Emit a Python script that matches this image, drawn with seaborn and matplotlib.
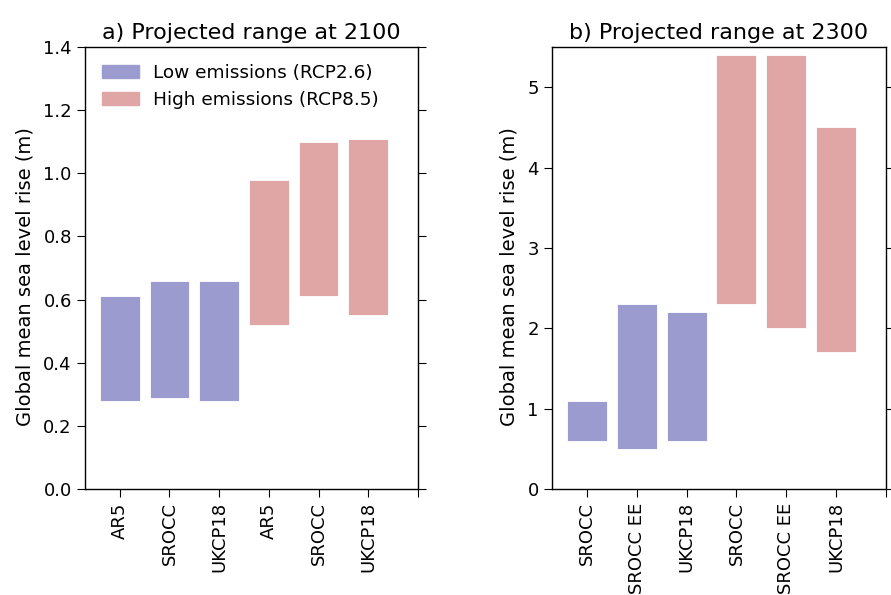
import matplotlib
matplotlib.use("Agg")
import matplotlib.pyplot as plt
import matplotlib.patches as mpatches
import seaborn as sns
import pandas as pd
import numpy as np

plt.rcParams['font.family'] = ['DejaVu Sans']
plt.rcParams['text.color'] = 'black'
plt.rcParams['axes.labelcolor'] = 'black'
plt.rcParams['xtick.color'] = 'black'
plt.rcParams['ytick.color'] = 'black'

# Panel a: 2100
labels_a = ["AR5", "SROCC", "UKCP18", "AR5", "SROCC", "UKCP18"]
low_a_min = [0.28, 0.29, 0.28]
low_a_max = [0.61, 0.66, 0.66]
high_a_min = [0.52, 0.61, 0.55]
high_a_max = [0.98, 1.10, 1.11]

# Panel b: 2300
labels_b = ["SROCC", "SROCC EE", "UKCP18", "SROCC", "SROCC EE", "UKCP18"]
low_b_min = [0.6, 0.5, 0.6]
low_b_max = [1.1, 2.3, 2.2]
high_b_min = [2.3, 2.0, 1.7]
high_b_max = [5.4, 5.4, 4.5]

c_low = "#9b9bd0"
c_high = "#e0a5a5"

fig = plt.figure(figsize=(8.91, 5.95), dpi=100)
ax_a = fig.add_axes([0.0954, 0.178, 0.3737, 0.743])
ax_b = fig.add_axes([0.6195, 0.178, 0.3749, 0.743])


def draw(ax, lmin, lmax, hmin, hmax, labels, ylim, title, yticks):
    n = len(lmin)
    for i, (mn, mx, col) in enumerate([(lmin, lmax, c_low), (hmin, hmax, c_high)]):
        pos = np.arange(1, n + 1) + i * n
        df = pd.DataFrame({"x": pos, "h": np.array(mx) - np.array(mn)})
        sns.barplot(data=df, x="x", y="h", native_scale=True, width=0.8,
                    color=col, saturation=1, errorbar=None, ax=ax,
                    bottom=np.array(mn), edgecolor="white", linewidth=0.6)
    ax.set_xlim(0.3, 7)
    ax.set_ylim(*ylim)
    ax.set_xticks(range(1, 8))
    ax.set_xticklabels(labels + [""], rotation=90, fontsize=13)
    ax.set_yticks(yticks)
    ax.tick_params(axis="y", labelsize=13, right=True, length=6)
    ax.tick_params(axis="x", length=6)
    ax.set_xlabel("")
    ax.set_ylabel("Global mean sea level rise (m)", fontsize=14, labelpad=6)
    ax.yaxis.label.set_y(0.48)
    ax.set_title(title, fontsize=16)
    for s in ax.spines.values():
        s.set_visible(True)
        s.set_linewidth(1.0)


draw(ax_a, low_a_min, low_a_max, high_a_min, high_a_max, labels_a, (0, 1.4),
     "a) Projected range at 2100", np.arange(0, 1.41, 0.2))
ax_a.set_yticklabels([f"{v:.1f}" for v in np.arange(0, 1.41, 0.2)])
draw(ax_b, low_b_min, low_b_max, high_b_min, high_b_max, labels_b, (0, 5.5),
     "b) Projected range at 2300", [0, 1, 2, 3, 4, 5])

handles = [mpatches.Patch(color=c_low, label="Low emissions (RCP2.6)"),
           mpatches.Patch(color=c_high, label="High emissions (RCP8.5)")]
ax_a.legend(handles=handles, loc="upper left", frameon=False, fontsize=13.3,
            handlelength=2.0)

fig.savefig("out.png", dpi=100)
